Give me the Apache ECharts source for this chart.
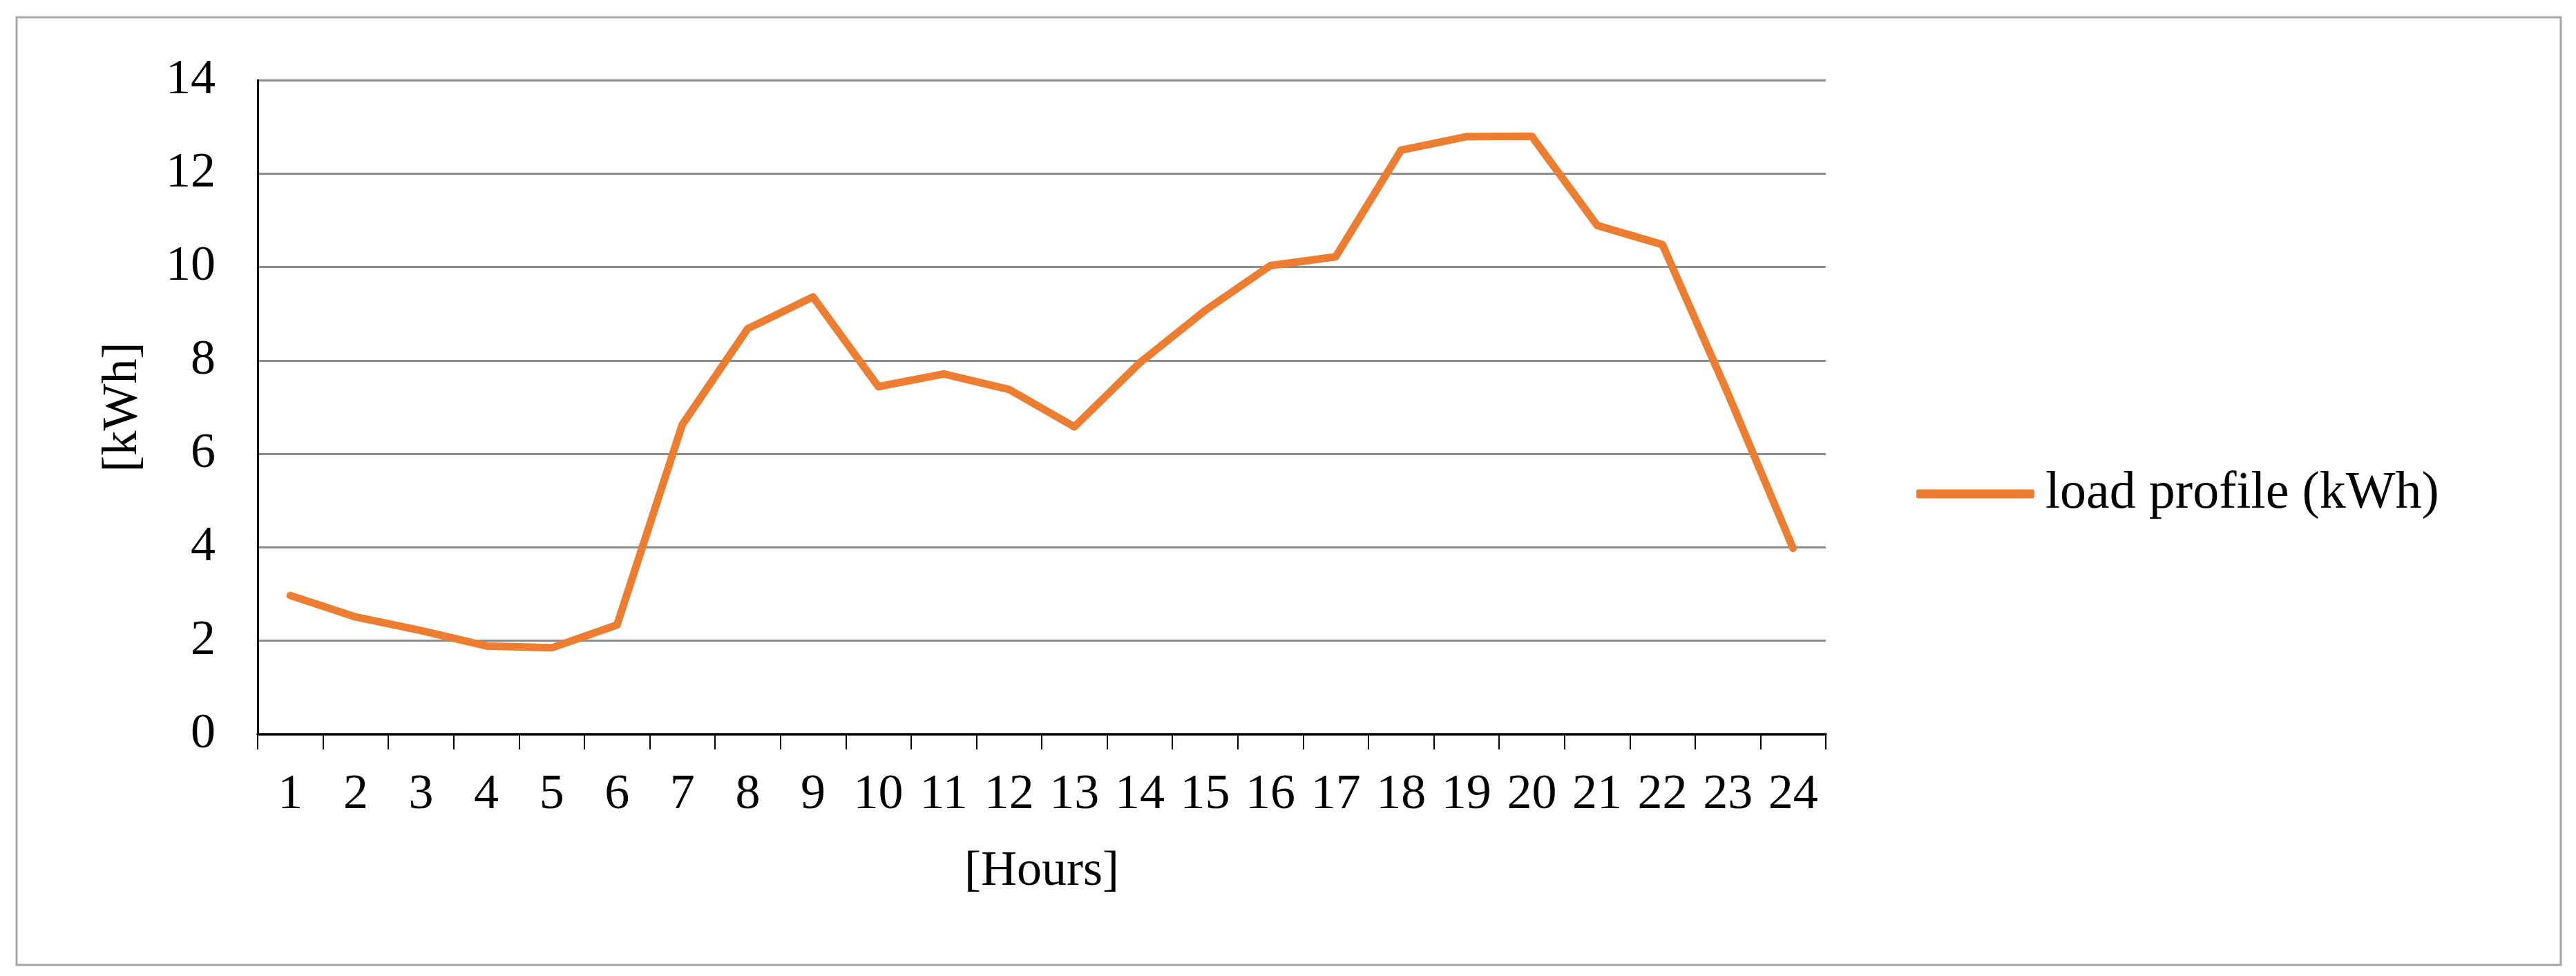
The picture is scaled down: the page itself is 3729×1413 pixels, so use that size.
<!DOCTYPE html>
<html>
<head>
<meta charset="utf-8">
<title>load profile</title>
<script src="https://cdn.jsdelivr.net/npm/echarts@6/dist/echarts.min.js"></script>
<style>
  html, body { margin: 0; padding: 0; background: #fff; }
  #chart { width: 3729px; height: 1413px; }
</style>
</head>
<body>
<div id="chart"></div>
<script>
// hours on the x axis
const hours = ['1', '2', '3', '4', '5', '6', '7', '8', '9', '10', '11', '12',
  '13', '14', '15', '16', '17', '18', '19', '20', '21', '22', '23', '24'];
// load per hour, kWh
const load = [2.97, 2.51, 2.22, 1.89, 1.85, 2.34, 6.63, 8.68, 9.36, 7.44, 7.71, 7.38,
  6.58, 7.95, 9.07, 10.03, 10.22, 12.5, 12.79, 12.8, 10.89, 10.48, 7.3, 3.98];
const seriesName = 'load profile (kWh)';

const font = "'Liberation Serif', 'DejaVu Serif', serif";

const myChart = echarts.init(document.getElementById('chart'));

const option = {
  backgroundColor: '#fff',
  animation: false,
  graphic: [{
    type: 'rect',
    shape: { x: 24, y: 25, width: 3683, height: 1372 },
    style: { fill: 'none', stroke: '#a6a6a6', lineWidth: 3 },
    silent: true
  }],
  legend: {
    data: [seriesName],
    left: 2769,
    top: 672,
    icon: 'roundRect',
    itemWidth: 171,
    itemHeight: 13,
    textStyle: {
      fontFamily: font,
      fontSize: 76,
      color: '#000',
      padding: [0, 0, 0, 11]
    }
  },
  grid: {
    left: 373,
    top: 116,
    width: 2270,
    height: 947
  },
  xAxis: {
    type: 'category',
    data: hours,
    boundaryGap: true,
    name: '[Hours]',
    nameLocation: 'middle',
    nameGap: 163,
    nameTextStyle: { fontFamily: font, fontSize: 72, color: '#000' },
    axisLine: { lineStyle: { color: '#000', width: 3.5 } },
    axisTick: { show: true, length: 22, lineStyle: { color: '#000', width: 2 } },
    axisLabel: { fontFamily: font, fontSize: 72, color: '#000', margin: 52 },
    splitLine: { show: false }
  },
  yAxis: {
    type: 'value',
    min: 0,
    max: 14,
    interval: 2,
    name: '[kWh]',
    nameLocation: 'middle',
    nameGap: 159,
    nameRotate: 90,
    nameTextStyle: { fontFamily: font, fontSize: 72, color: '#000' },
    axisLine: { show: true, lineStyle: { color: '#000', width: 3 } },
    axisTick: { show: false },
    axisLabel: { fontFamily: font, fontSize: 72, color: '#000', margin: 61 },
    splitLine: { lineStyle: { color: '#8c8c8c', width: 3 } }
  },
  series: [{
    name: seriesName,
    type: 'line',
    data: load,
    symbol: 'none',
    itemStyle: { color: '#ED7D31' },
    lineStyle: { color: '#ED7D31', width: 11, join: 'round', cap: 'round' }
  }]
};

myChart.setOption(option);
</script>
</body>
</html>
